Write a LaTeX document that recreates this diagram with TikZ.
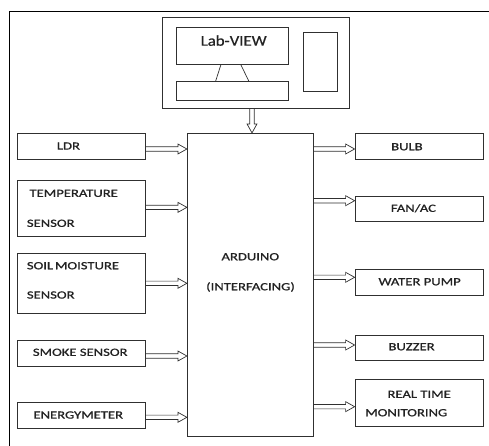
\documentclass[tikz,border=0pt]{standalone}
\usepackage{fontspec}
\setmainfont{Carlito}[FakeStretch=1.33, FakeBold=0.9]
\newfontfamily\labfont{Carlito}[FakeStretch=1.12, FakeBold=0.5]
\usetikzlibrary{calc}
\definecolor{txt}{HTML}{222222}
\definecolor{ln}{HTML}{303030}
\tikzset{
  box/.style={draw=ln, line width=0.8pt, inner sep=0pt, rectangle},
  lbl/.style={inner sep=0pt, text height=7.1pt, text depth=0pt, text=txt,
              font=\fontsize{11}{13}\selectfont},
  arrin/.style={draw=ln, line width=0.7pt, line join=miter,
    to path={let \p1=(\tikztostart), \p2=(\tikztotarget) in
      (\x1,\y1+2.2pt) -- (\x2-9pt,\y1+2.2pt) -- (\x2-9pt,\y1+5pt) -- (\x2,\y1)
      -- (\x2-9pt,\y1-5pt) -- (\x2-9pt,\y1-2.2pt) -- (\x1,\y1-2.2pt)}},
  arrout/.style={draw=ln, line width=0.7pt, line join=miter,
    to path={let \p1=(\tikztostart), \p2=(\tikztotarget) in
      (\x1,\y2+2.2pt) -- (\x2-9pt,\y2+2.2pt) -- (\x2-9pt,\y2+5pt) -- (\x2,\y2)
      -- (\x2-9pt,\y2-5pt) -- (\x2-9pt,\y2-2.2pt) -- (\x1,\y2-2.2pt)}},
  arrdown/.style={draw=ln, line width=0.7pt, line join=miter,
    to path={let \p1=(\tikztostart), \p2=(\tikztotarget) in
      (\x1-2.2pt,\y1) -- (\x1-2.2pt,\y2+9pt) -- (\x1-5pt,\y2+9pt) -- (\x1,\y2)
      -- (\x1+5pt,\y2+9pt) -- (\x1+2.2pt,\y2+9pt) -- (\x1+2.2pt,\y1)}},
}
\begin{document}
\begin{tikzpicture}[x=1pt,y=-1pt]
\clip (0,0) rectangle (489,445);
\fill[white] (0,0) rectangle (489,445);
% outer frame (only left and top edges visible)
\node[box, draw=black, line width=1pt, anchor=north west, minimum width=520pt, minimum height=480pt] (frame) at (9,11) {};

% monitor
\node[box, minimum width=186.6pt, minimum height=91.4pt] (mon) at (256,63) {};
\node[box, minimum width=112pt, minimum height=36.7pt] (lv) at (232.7,45.65) {};
\node[box, minimum width=112pt, minimum height=19.4pt] (bar) at (232.7,91) {};
\node[box, minimum width=34.7pt, minimum height=59.3pt] (side) at (320.35,61.65) {};
\node[lbl, text height=10pt, font=\labfont\fontsize{15}{17}\selectfont] (lvt) at (233.7,40.7) {Lab-VIEW};
\draw[ln, line width=0.7pt] ([xshift=-11.7pt]lv.south) -- ([xshift=-17pt]bar.north);
\draw[ln, line width=0.7pt] ([xshift=8pt]lv.south) -- ([xshift=16pt]bar.north);

% arduino
\node[box, minimum width=126pt, minimum height=302.7pt] (ard) at (250.3,284.65) {};
\node[lbl] (ardt) at (250.3,256.7) {ARDUINO};
\node[lbl] (ardi) at (250.5,286.7) {(INTERFACING)};
\draw[arrdown] ([xshift=-4pt]mon.south) to (ard.north);

% left boxes
\node[box, minimum width=128.4pt, minimum height=26pt] (ldr) at (81.5,146.3) {};
\node[box, minimum width=128.4pt, minimum height=56.7pt] (temp) at (81.5,208.35) {};
\node[box, minimum width=128.4pt, minimum height=60pt] (soil) at (81.5,283.3) {};
\node[box, minimum width=128.4pt, minimum height=26pt] (smoke) at (81.5,353.7) {};
\node[box, minimum width=128.4pt, minimum height=25.6pt] (energy) at (81.5,415.5) {};

\node[lbl, anchor=west] (ldrt) at (56.7,146) {LDR};
\node[lbl, anchor=west] (tempt1) at (29.3,193.3) {TEMPERATURE};
\node[lbl, anchor=west] (tempt2) at (26.7,223.3) {SENSOR};
\node[lbl, anchor=west] (soilt1) at (26.7,265.7) {SOIL\hspace{1.8pt}MOISTURE};
\node[lbl, anchor=west] (soilt2) at (26.7,295) {SENSOR};
\node[lbl, anchor=west] (smoket) at (32.7,352.3) {SMOKE SENSOR};
\node[lbl, anchor=west] (energyt) at (33.3,415) {ENERGYMETER};

\draw[arrin] ([yshift=-2.7pt]ldr.east) to (ard.west);
\draw[arrin] ([yshift=1pt]temp.east) to (ard.west);
\draw[arrin] (soil.east) to (ard.west);
\draw[arrin] ([yshift=-2.3pt]smoke.east) to (ard.west);
\draw[arrin] ([yshift=-1.8pt]energy.east) to (ard.west);

% right boxes
\node[box, minimum width=128.3pt, minimum height=26pt] (bulb) at (419.15,146.3) {};
\node[box, minimum width=128.3pt, minimum height=25pt] (fan) at (419.15,209.2) {};
\node[box, minimum width=128.3pt, minimum height=25.7pt] (pump) at (419.15,282.15) {};
\node[box, minimum width=128.3pt, minimum height=25pt] (buzz) at (419.15,348.2) {};
\node[box, minimum width=128.3pt, minimum height=46.7pt] (rtm) at (419.15,402.65) {};

\node[lbl, anchor=west] (bulbt) at (391,146.7) {BULB};
\node[lbl, anchor=west] (fant) at (390.7,208.3) {FAN/AC};
\node[lbl, anchor=west] (pumpt) at (378.3,281.7) {WATER PUMP};
\node[lbl, anchor=west] (buzzt) at (388.3,346.7) {BUZZER};
\node[lbl, anchor=west] (rtmt1) at (387.3,394.3) {REAL TIME};
\node[lbl, anchor=west] (rtmt2) at (365,412.7) {MONITORING};

\draw[arrout] (ard.east) to ([yshift=-2.7pt]bulb.west);
\draw[arrout] (ard.east) to ([yshift=8.5pt]fan.west);
\draw[arrout] (ard.east) to ([yshift=4.85pt]pump.west);
\draw[arrout] (ard.east) to ([yshift=3.2pt]buzz.west);
\draw[arrout] (ard.east) to ([yshift=-4pt]rtm.west);
\end{tikzpicture}
\end{document}
